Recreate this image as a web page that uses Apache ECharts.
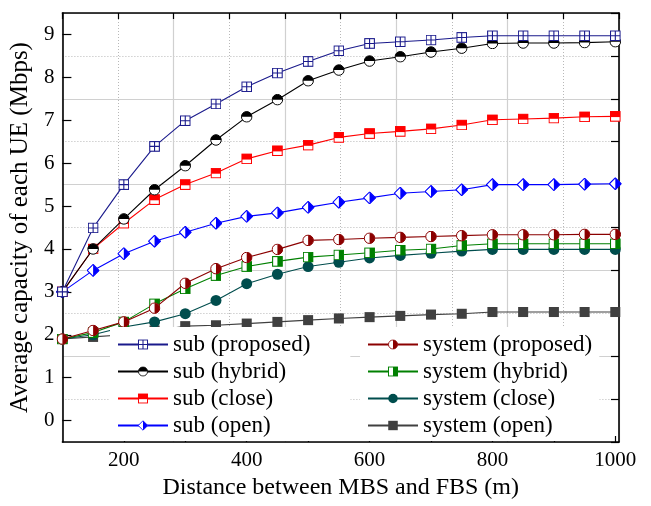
<!DOCTYPE html>
<html>
<head>
<meta charset="utf-8">
<script src="https://cdn.jsdelivr.net/npm/echarts@6/dist/echarts.min.js"></script>
<style>html,body{margin:0;padding:0;background:#fff;}#c{width:651px;height:506px;}</style>
</head>
<body>
<div id="c"></div>
<script>
const distances = [100,150,200,250,300,350,400,450,500,550,600,650,700,750,800,850,900,950,1000];
const subProposed = [3.0,4.49,5.5,6.39,6.99,7.38,7.78,8.1,8.37,8.62,8.79,8.83,8.87,8.93,8.97,8.97,8.97,8.97,8.97];
const subHybrid   = [3.0,4.0,4.7,5.38,5.94,6.54,7.08,7.48,7.92,8.17,8.38,8.48,8.59,8.68,8.79,8.8,8.8,8.81,8.83];
const subClose    = [3.0,4.0,4.6,5.15,5.5,5.77,6.1,6.29,6.42,6.6,6.69,6.74,6.8,6.89,7.01,7.03,7.05,7.08,7.09];
const subOpen     = [3.0,3.5,3.89,4.18,4.39,4.6,4.76,4.84,4.97,5.09,5.19,5.3,5.34,5.38,5.5,5.5,5.5,5.51,5.52];
const sysProposed = [1.9,2.1,2.3,2.62,3.2,3.54,3.8,3.99,4.2,4.22,4.25,4.27,4.29,4.31,4.33,4.33,4.33,4.34,4.34];
const sysHybrid   = [1.9,2.05,2.3,2.72,3.07,3.38,3.59,3.71,3.81,3.86,3.91,3.97,4.0,4.08,4.12,4.12,4.12,4.12,4.12];
const sysClose    = [1.9,2.0,2.18,2.3,2.49,2.8,3.19,3.41,3.59,3.69,3.79,3.85,3.9,3.95,3.99,3.99,3.99,3.99,3.99];
const sysOpen     = [1.9,1.95,2.0,2.1,2.2,2.22,2.26,2.3,2.34,2.38,2.41,2.44,2.47,2.49,2.53,2.53,2.53,2.53,2.53];
const seriesNames = ['sub (proposed)','sub (hybrid)','sub (close)','sub (open)','system (proposed)','system (hybrid)','system (close)','system (open)'];
const xTickValues = [200,300,400,500,600,700,800,900,1000];
const xLabelValues = [200,400,600,800,1000];
const yTickValues = [0,1,2,3,4,5,6,7,8,9];

const FONT = 'Liberation Serif';
function img(svg){ return 'image://data:image/svg+xml;charset=utf-8,' + encodeURIComponent(svg); }
const S = "<svg xmlns='http://www.w3.org/2000/svg' width='24' height='24' viewBox='0 0 24 24'>";
const symbols = [
  img(S+"<rect x='1.5' y='1.5' width='21' height='21' fill='#fff' stroke='#1a1a8c' stroke-width='2.4'/><path d='M12 1.5V22.5M1.5 12H22.5' stroke='#1a1a8c' stroke-width='2.4'/></svg>"),
  img(S+"<circle cx='12' cy='12' r='10.5' fill='#fff' stroke='#000' stroke-width='2'/><path d='M1.5 12A10.5 10.5 0 0 1 22.5 12Z' fill='#000'/></svg>"),
  img(S+"<rect x='1.5' y='1.5' width='21' height='21' fill='#fff' stroke='#ff0000' stroke-width='2.4'/><rect x='1.5' y='1.5' width='21' height='12' fill='#ff0000'/></svg>"),
  img(S+"<path d='M12 1L23 12L12 23L1 12Z' fill='#fff' stroke='#0000ff' stroke-width='2'/><path d='M12 1L23 12L12 23Z' fill='#0000ff'/></svg>"),
  img(S+"<circle cx='12' cy='12' r='10.5' fill='#fff' stroke='#8b0000' stroke-width='2'/><path d='M12 1.5A10.5 10.5 0 0 1 12 22.5Z' fill='#8b0000'/></svg>"),
  img(S+"<rect x='1.5' y='1.5' width='21' height='21' fill='#fff' stroke='#008000' stroke-width='2.4'/><rect x='12' y='1.5' width='10.5' height='21' fill='#008000'/></svg>"),
  img(S+"<circle cx='12' cy='12' r='11' fill='#004d4d'/></svg>"),
  img(S+"<rect x='1' y='1' width='22' height='22' fill='#404040'/></svg>")
];
const colors = ['#1a1a8c','#000000','#ff0000','#0000ff','#8b0000','#008000','#004d4d','#404040'];
const sizes = [11,12,11,13,12,11,12,11];
const allData = [subProposed,subHybrid,subClose,subOpen,sysProposed,sysHybrid,sysClose,sysOpen];

const series = allData.map((vals,i)=>({
  name: seriesNames[i], type:'line', xAxisIndex:0, yAxisIndex:0,
  data: distances.map((d,k)=>[d, vals[k]]),
  symbol: symbols[i], symbolSize: sizes[i],
  lineStyle:{color:colors[i], width:1.1}, itemStyle:{color:colors[i]},
  animation:false, z: 3 + (7-i)*0.1
}));

const legendCommon = {
  orient:'vertical', top:327, itemWidth:50, itemHeight:13, itemGap:4,
  backgroundColor:'#fff', borderWidth:0,
  textStyle:{fontFamily:FONT, fontSize:23, color:'#000'}, selectedMode:false, z:20
};

const option = {
  animation:false,
  backgroundColor:'#fff',
  grid:{left:62, right:32, top:13, bottom:64},
  legend:[
    Object.assign({}, legendCommon, {left:110, padding:[6,40,4,7], data:seriesNames.slice(0,4)}),
    Object.assign({}, legendCommon, {left:360, padding:[6,7,4,7], data:seriesNames.slice(4)})
  ],
  xAxis:[
    {type:'value', min:100, max:1006, position:'bottom',
     name:'Distance between MBS and FBS (m)', nameLocation:'middle', nameGap:33,
     nameTextStyle:{fontFamily:FONT, fontSize:24, color:'#000'},
     axisLine:{show:true, onZero:false, lineStyle:{color:'#000', width:1.6}},
     axisTick:{show:true, inside:true, length:6, customValues:xTickValues, lineStyle:{color:'#000', width:1.2}},
     axisLabel:{customValues:xLabelValues, formatter:(v)=>String(v), fontFamily:FONT, fontSize:21, color:'#000', margin:8},
     splitLine:{show:false}},
    {type:'value', min:0, max:10, interval:1, position:'top',
     axisLine:{show:true, onZero:false, lineStyle:{color:'#000', width:1.6}},
     axisTick:{show:true, inside:true, length:6, lineStyle:{color:'#000', width:1.2}},
     axisLabel:{show:false},
     splitLine:{show:true, lineStyle:{color:'#b8b8b8', width:1, type:[1,2]}}},
    {type:'value', min:0, max:10, interval:2, position:'top',
     axisLine:{show:false}, axisTick:{show:false}, axisLabel:{show:false},
     splitLine:{show:true, lineStyle:{color:'#d0d0d0', width:1.2, type:'solid'}}}
  ],
  yAxis:[
    {type:'value', min:-0.5, max:9.5, position:'left',
     name:'Average capacity of each UE (Mbps)', nameLocation:'middle', nameGap:22,
     nameTextStyle:{fontFamily:FONT, fontSize:25, color:'#000'},
     axisLine:{show:true, onZero:false, lineStyle:{color:'#000', width:1.6}},
     axisTick:{show:true, inside:true, length:9, customValues:yTickValues, lineStyle:{color:'#000', width:1.2}},
     axisLabel:{customValues:yTickValues, formatter:(v)=>String(v), fontFamily:FONT, fontSize:21, color:'#000', margin:8},
     splitLine:{show:false}},
    {type:'value', min:0, max:10, interval:1, position:'right',
     axisLine:{show:true, onZero:false, lineStyle:{color:'#000', width:1.6}},
     axisTick:{show:true, inside:true, length:8, lineStyle:{color:'#000', width:1.2}},
     axisLabel:{show:false},
     splitLine:{show:true, lineStyle:{color:'#b8b8b8', width:1, type:[1,2]}}},
    {type:'value', min:0, max:10, interval:2, position:'right',
     axisLine:{show:false}, axisTick:{show:false}, axisLabel:{show:false},
     splitLine:{show:true, lineStyle:{color:'#d0d0d0', width:1.2, type:'solid'}}}
  ],
  series: series
};
const chart = echarts.init(document.getElementById('c'), null, {renderer:'canvas'});
chart.setOption(option);
</script>
</body>
</html>
